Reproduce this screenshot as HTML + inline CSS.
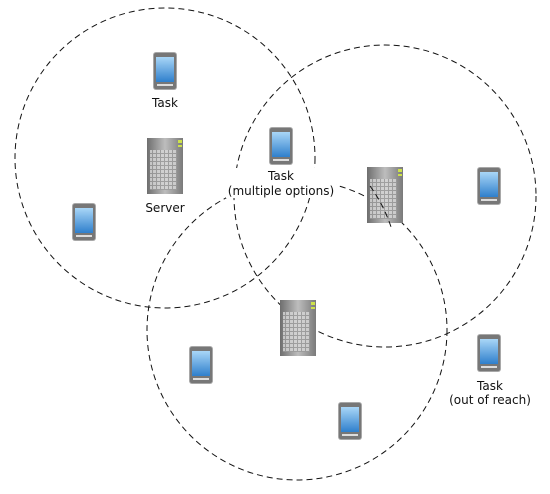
<!DOCTYPE html>
<html><head><style>body{margin:0;background:#fff}svg{display:block}text{font-family:"DejaVu Sans",sans-serif;font-size:12px;fill:#111;text-anchor:middle}</style></head><body>
<svg width="550" height="494" viewBox="0 0 550 494">
<defs>
<linearGradient id="scr" x1="0" y1="0" x2="0" y2="1"><stop offset="0" stop-color="#a9d6f7"/><stop offset="1" stop-color="#2f7fcc"/></linearGradient>
<linearGradient id="srv" x1="0" y1="0" x2="1" y2="0"><stop offset="0" stop-color="#6e6e6e"/><stop offset="0.5" stop-color="#bdbdbd"/><stop offset="1" stop-color="#7a7a7a"/></linearGradient>
<pattern id="grid" width="4" height="4" patternUnits="userSpaceOnUse"><rect width="4" height="4" fill="#9a9a9a"/><rect width="3" height="3" fill="#d8d8d8"/></pattern>
<g id="phone"><rect x="-12" y="-19" width="24" height="38" rx="3" fill="#a8a8a8"/><rect x="-11" y="-18" width="22" height="36" rx="2" fill="#777"/><rect x="-9" y="-14" width="18" height="25" fill="url(#scr)"/><rect x="-8" y="13" width="16" height="2" fill="#ddd"/></g>
<g id="server"><rect x="-18" y="-28" width="36" height="56" fill="url(#srv)"/><rect x="-15" y="-16" width="27" height="40" fill="url(#grid)" opacity="0.8"/><rect x="13" y="-26" width="4" height="3" fill="#cde24a"/><rect x="13" y="-21" width="4" height="2" fill="#cde24a"/></g>
</defs>
<g fill="none" stroke="#111" stroke-width="1" stroke-dasharray="6,4">
<circle cx="165" cy="158" r="150"/>
<circle cx="385" cy="196" r="151"/>
<circle cx="297" cy="330" r="150"/>
</g>
<use href="#server" x="165" y="166"/>
<use href="#server" x="385" y="195"/>
<use href="#server" x="298" y="328"/>
<g fill="none" stroke="#111" stroke-dasharray="6,4"><path d="M370 186 A151 151 0 0 1 392 230" /></g>
<use href="#phone" x="165" y="71"/>
<use href="#phone" x="281" y="146"/>
<use href="#phone" x="84" y="222"/>
<use href="#phone" x="489" y="186"/>
<use href="#phone" x="201" y="365"/>
<use href="#phone" x="350" y="421"/>
<use href="#phone" x="489" y="353"/>
<rect x="226" y="168" width="110" height="30" fill="#fff"/>
<rect x="445" y="377" width="90" height="30" fill="#fff"/>
<text x="165" y="107">Task</text>
<text x="165" y="212">Server</text>
<text x="281" y="180">Task</text>
<text x="281" y="195">(multiple options)</text>
<text x="490" y="390">Task</text>
<text x="490" y="404">(out of reach)</text>
</svg>
</body></html>
